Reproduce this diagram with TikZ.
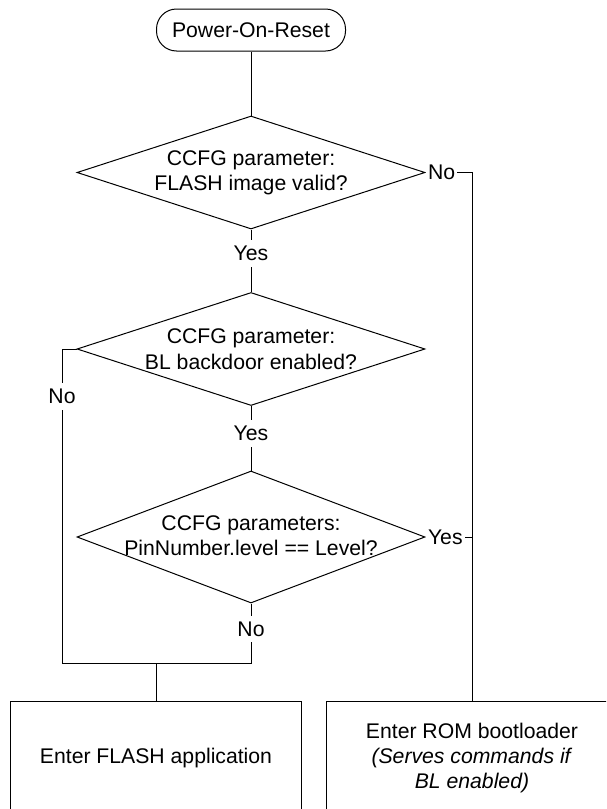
\documentclass[tikz,border=0pt]{standalone}
\usepackage{fontspec}
\setmainfont{Liberation Sans}
\usetikzlibrary{shapes.geometric,calc}

\begin{document}
\begin{tikzpicture}[
x=0.5pt, y=-0.5pt,
line width=0.5pt,
every node/.style={font=\fontsize{10.6}{12.7}\selectfont},
terminal/.style={
  draw,
  rectangle,
  rounded corners=10pt,
  minimum width=94.5pt,
  minimum height=21pt,
  inner sep=0pt
  },
decision/.style={
  draw,
  diamond,
  minimum width=174pt,
  minimum height=56.5pt,
  inner sep=0pt
  },
qtext/.style={
  align=center,
  inner sep=0pt
  },
action/.style={
  draw,
  rectangle,
  minimum width=145.5pt,
  minimum height=57pt,
  align=center
  },
lbl/.style={
  fill=white,
  inner xsep=1pt,
  inner ysep=3pt
  }
]
\useasboundingbox (0,0) rectangle (606,809);
\clip (0,0) rectangle (606,809);

% boxes
\node[terminal] (por) at (251,30) {Power-On-Reset};
\node[decision] (img) at (251,172.5) {};
\node[qtext] (imgtxt) at (img) {CCFG parameter:\\FLASH image valid?};
\node[decision] (bkd) at (251,349) {};
\node[qtext] (bkdtxt) at (bkd) {CCFG parameter:\\BL backdoor enabled?};
\node[decision, minimum height=66pt] (pin) at (251,537) {};
\node[qtext] (pintxt) at (251,535.5) {CCFG parameters:\\PinNumber.level == Level?};
\node[action] (app) at (156,758) {Enter FLASH application};
\node[action] (rom) at (472,758) {Enter ROM bootloader\\\textit{(Serves commands if}\\\textit{BL enabled)}};

\coordinate (mleft) at (62,663);
\coordinate (mright) at (251,663);

% lines
\draw (por) -- (img);
\draw (img) -- node[lbl, pos=0.38] (yimg) {Yes} (bkd);
\draw (bkd) -- node[lbl, pos=0.43] (ybkd) {Yes} (pin);
\draw (img.east) -- node[lbl, anchor=west, pos=0] (nimg) {No} (img.east -| rom) -- (rom);
\draw (pin.east) -- node[lbl, anchor=west, pos=0] (ypin) {Yes} (pin.east -| rom);
\draw (bkd.west) -| node[lbl, pos=0.576] (nbkd) {No} (mleft);
\draw (pin) -- node[lbl, pos=0.43] (npin) {No} (mright) -- (mleft);
\draw (app.north |- mleft) -- (app);
\end{tikzpicture}
\end{document}
